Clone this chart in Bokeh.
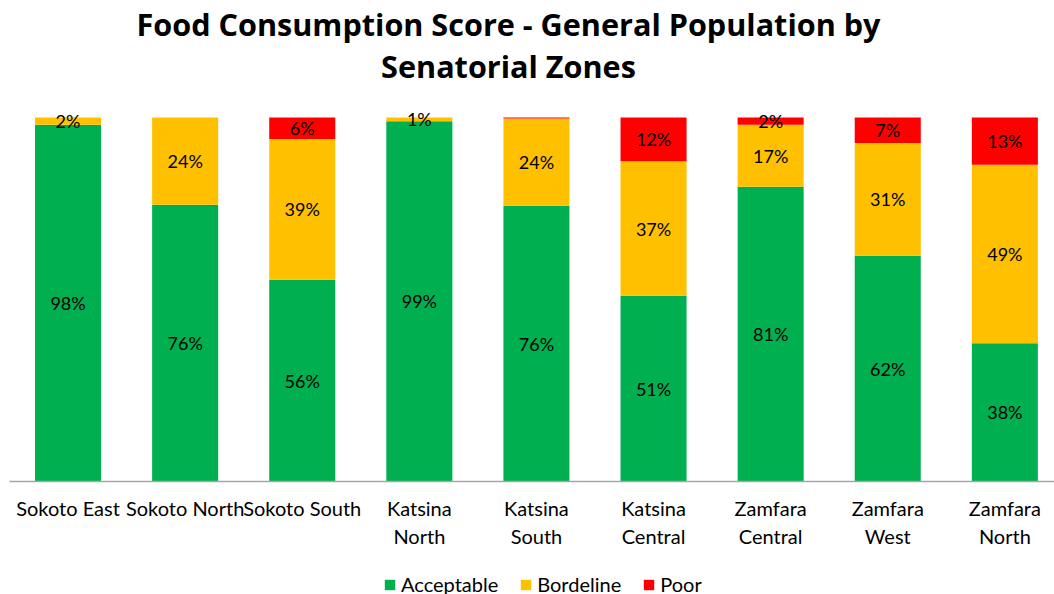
from bokeh.plotting import figure
from bokeh.layouts import column
from bokeh.models import Range1d, FixedTicker, Legend, LegendItem, ColumnDataSource
from bokeh.core.properties import value
from bokeh.embed import file_html
from bokeh.resources import INLINE

zones = ["Sokoto East", "Sokoto North", "Sokoto South", "Katsina\nNorth", "Katsina\nSouth",
         "Katsina\nCentral", "Zamfara\nCentral", "Zamfara\nWest", "Zamfara\nNorth"]
acceptable = [98, 76, 56, 99, 76, 51, 81, 62, 38]
borderline = [2, 24, 39, 1, 24, 37, 17, 31, 49]
poor = [0, 0, 6, 0, 0.3, 12, 2, 7, 13]

series_names = ["Acceptable", "Bordeline", "Poor"]
series_colors = ["#00B050", "#FFC000", "#FF0000"]
title_lines = ["Food Consumption Score - General Population by", "Senatorial Zones"]

FONT = "Lato"
W = 1054
MAIN_H = 566
FRAME_BOTTOM = 481          # px from top of the page
BAR_PX = 364                # px height of a 100% bar
X_START, X_END = -0.5, 8.424
LEFT = 9
px_per_x = (W - LEFT) / (X_END - X_START)

p = figure(width=W, height=MAIN_H, output_backend="svg", toolbar_location=None,
           x_range=Range1d(X_START, X_END), y_range=Range1d(0, FRAME_BOTTOM / BAR_PX),
           min_border_left=LEFT, min_border_right=0, min_border_top=0,
           min_border_bottom=MAIN_H - FRAME_BOTTOM)
p.outline_line_color = None
p.xgrid.visible = False
p.ygrid.visible = False
p.yaxis.visible = False

xs = list(range(len(zones)))
totals = [a + b + c for a, b, c in zip(acceptable, borderline, poor)]
series = [acceptable, borderline, poor]
bottoms = [0.0] * len(zones)
for vals, name, color in zip(series, series_names, series_colors):
    fr = [v / t for v, t in zip(vals, totals)]
    tops = [b + f for b, f in zip(bottoms, fr)]
    mids = [(b + t) / 2 for b, t in zip(bottoms, tops)]
    labels = [f"{round(v)}%" if v >= 1 else "" for v in vals]
    src = ColumnDataSource(dict(x=xs, bottom=bottoms, top=tops, mid=mids, label=labels))
    p.vbar(x="x", width=0.564, bottom="bottom", top="top", source=src,
           fill_color=color, line_color=None)
    p.text(x="x", y="mid", text="label", source=src, text_align="center",
           text_baseline="middle", text_font=value(FONT), text_font_size="18px",
           text_color="#000000")
    bottoms = tops

# title (two centred lines)
title_cx = X_START + (508 - LEFT) / px_per_x
title_y = [(FRAME_BOTTOM - 23) / BAR_PX, (FRAME_BOTTOM - 65) / BAR_PX]
p.text(x=[title_cx, title_cx], y=title_y, text=title_lines, text_align="center",
       text_baseline="alphabetic", text_font=value("Open Sans"), text_font_size="30.6px",
       text_font_style="bold", text_color="#000000")

ax = p.xaxis[0]
ax.ticker = FixedTicker(ticks=xs)
ax.major_label_overrides = {i: z for i, z in enumerate(zones)}
ax.major_tick_line_color = None
ax.minor_tick_line_color = None
ax.axis_line_color = "#A6A6A6"
ax.axis_line_width = 1.5
ax.major_label_text_font = FONT
ax.major_label_text_font_size = "20px"
ax.major_label_text_color = "#000000"
ax.major_label_standoff = 8

# legend strip (proxy renderers sit outside the visible range of this strip)
p2 = figure(width=W, height=594 - MAIN_H, output_backend="svg", toolbar_location=None,
            x_range=Range1d(0, 1), y_range=Range1d(0, 1),
            min_border_left=0, min_border_right=0, min_border_top=0, min_border_bottom=0)
p2.outline_line_color = None
p2.xaxis.visible = False
p2.yaxis.visible = False
p2.xgrid.visible = False
p2.ygrid.visible = False
items = []
for name, color in zip(series_names, series_colors):
    proxy = ColumnDataSource(dict(x=[-5], top=[-5]))
    r = p2.vbar(x="x", width=0.5, top="top", source=proxy, fill_color=color, line_color=None)
    items.append(LegendItem(label=name, renderers=[r]))
legend = Legend(items=items, orientation="horizontal", location=(374, -2),
                glyph_width=13, glyph_height=13, label_standoff=5, spacing=21,
                label_height=20, label_text_font=FONT, label_text_font_size="20px",
                label_text_color="#000000", padding=0, margin=0,
                border_line_color=None, background_fill_alpha=0)
p2.add_layout(legend)

layout = column(p, p2, spacing=0)
open("out.html", "w").write(file_html(layout, INLINE))
